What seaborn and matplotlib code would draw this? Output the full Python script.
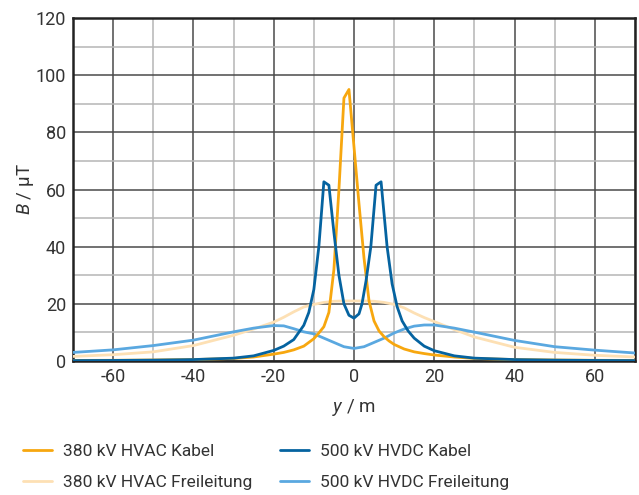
import numpy as np
import pandas as pd
import matplotlib
matplotlib.use("Agg")
import matplotlib.pyplot as plt
import seaborn as sns
from matplotlib.ticker import MultipleLocator

# y / m positions and B / uT values
hvac_kabel_x = [-70, -60, -50, -40, -30, -25, -20, -17.5, -15, -12.5, -10, -8.75, -7.5, -6.25, -5,
                -3.75, -2.5, -1.25, 0, 1.25, 2.5, 3.75, 5, 6.25, 7.5, 8.75, 10, 12.5, 15, 17.5,
                20, 25, 30, 40, 50, 60, 70]
hvac_kabel_b = [0.2, 0.25, 0.35, 0.5, 0.9, 1.4, 2.4, 3.0, 3.9, 5.2, 7.8, 9.8, 12, 17, 32,
                60, 92, 95, 75, 55, 36, 21, 14, 10.5, 8.5, 7, 5.8, 4.2, 3.2, 2.6,
                2.1, 1.4, 0.9, 0.5, 0.35, 0.25, 0.2]

hvdc_kabel_x = [-70, -60, -50, -40, -30, -25, -20, -17.5, -15, -12.5, -11.25, -10, -8.75, -7.5,
                -6.25, -5, -3.75, -2.5, -1.25, 0, 1.25, 2, 3, 4.2, 5.5, 6.75, 8.25, 9.5, 10.75,
                12, 13.5, 15, 17.5, 20, 25, 30, 40, 50, 60, 70]
hvdc_kabel_b = [0.15, 0.2, 0.3, 0.5, 1.0, 1.8, 3.7, 5.2, 7.5, 12.5, 17, 25, 40, 62.7,
                61.5, 45, 30, 20, 16, 15, 16.5, 20, 28, 40, 61.5, 62.7, 40, 27, 19,
                14, 10.5, 8, 5.2, 3.6, 1.8, 1.0, 0.5, 0.3, 0.2, 0.15]

hvac_frei_x = [-70, -60, -50, -40, -30, -25, -20, -17.5, -15, -12.5, -10, -7.5, -5, -2.5, 0,
               2.5, 5, 7.5, 10, 12.5, 15, 17.5, 20, 25, 30, 40, 50, 60, 70]
hvac_frei_b = [1.6, 2.2, 3.2, 5.4, 9.0, 11.2, 13.6, 15.3, 17.2, 18.9, 19.8, 20.5, 20.9, 21, 21,
               21, 20.9, 20.5, 19.8, 18.6, 16.8, 15.2, 13.8, 11, 8.4, 4.8, 3.0, 2.0, 1.4]

hvdc_frei_x = [-70, -60, -50, -40, -30, -25, -20, -17.5, -15, -12.5, -10, -7.5, -5, -2.5, 0,
               2.5, 5, 7.5, 10, 12.5, 15, 17.5, 20, 25, 30, 40, 50, 60, 70]
hvdc_frei_b = [3.0, 3.9, 5.4, 7.3, 10.2, 11.5, 12.4, 12.3, 11.3, 10.2, 9.5, 8.0, 6.5, 5.0, 4.4,
               5.0, 6.5, 8.0, 9.8, 11.2, 12.2, 12.6, 12.6, 11.5, 10.1, 7.2, 5.0, 3.8, 2.8]

labels = ["380 kV HVAC Kabel", "380 kV HVAC Freileitung",
          "500 kV HVDC Kabel", "500 kV HVDC Freileitung"]
colors = ["#f7a70f", "#fde0b4", "#0563a0", "#5aa8e0"]

frames = []
for lab, xs, bs in zip(labels,
                       [hvac_kabel_x, hvac_frei_x, hvdc_kabel_x, hvdc_frei_x],
                       [hvac_kabel_b, hvac_frei_b, hvdc_kabel_b, hvdc_frei_b]):
    frames.append(pd.DataFrame({"y": xs, "B": bs, "serie": lab}))
df = pd.concat(frames, ignore_index=True)

sns.set_style("white")
plt.rcParams["font.family"] = ["Roboto", "DejaVu Sans"]
plt.rcParams["axes.unicode_minus"] = False
plt.rcParams["mathtext.fontset"] = "custom"
plt.rcParams["mathtext.rm"] = "Roboto"
plt.rcParams["mathtext.it"] = "Roboto:italic"

txt = "#333333"

fig = plt.figure(figsize=(6.39, 4.95), dpi=100)
ax = fig.add_axes([0.1142, 0.2707, 0.8795, 0.6929])

# overhead lines first, cables on top
order = ["380 kV HVAC Freileitung", "500 kV HVDC Freileitung",
         "380 kV HVAC Kabel", "500 kV HVDC Kabel"]
pal = dict(zip(labels, colors))
for lab in order:
    sub = df[df["serie"] == lab]
    sns.lineplot(data=sub, x="y", y="B", color=pal[lab], lw=2.0, ax=ax,
                 sort=False, legend=False, zorder=3)

ax.set_xlim(-70, 70)
ax.set_ylim(0, 120)
ax.xaxis.set_major_locator(MultipleLocator(20))
ax.xaxis.set_minor_locator(MultipleLocator(10))
ax.yaxis.set_major_locator(MultipleLocator(20))
ax.yaxis.set_minor_locator(MultipleLocator(10))
ax.grid(which="major", color="#4a4a4a", lw=1.1, zorder=0)
ax.grid(which="minor", color="#b5b5b5", lw=1.1, zorder=0)
ax.set_axisbelow(True)
ax.tick_params(which="both", length=0, labelsize=13, colors=txt, pad=5)
for s in ax.spines.values():
    s.set_color("#222222")
    s.set_linewidth(1.8)
    s.set_visible(True)

ax.set_xlabel("$y$ / m", fontsize=13.5, color=txt, labelpad=8)
ax.set_ylabel("$B$ / µT", fontsize=13.5, color=txt, labelpad=0)

handles = [plt.Line2D([], [], color=c, lw=2.0) for c in colors]
fig.legend(handles, labels, loc="lower left", bbox_to_anchor=(0.022, -0.008),
           ncol=2, frameon=False, fontsize=12.5, handlelength=1.7,
           handletextpad=0.6, columnspacing=1.6, labelspacing=0.92,
           borderpad=0, labelcolor=txt)

plt.savefig("out.png", dpi=100)
